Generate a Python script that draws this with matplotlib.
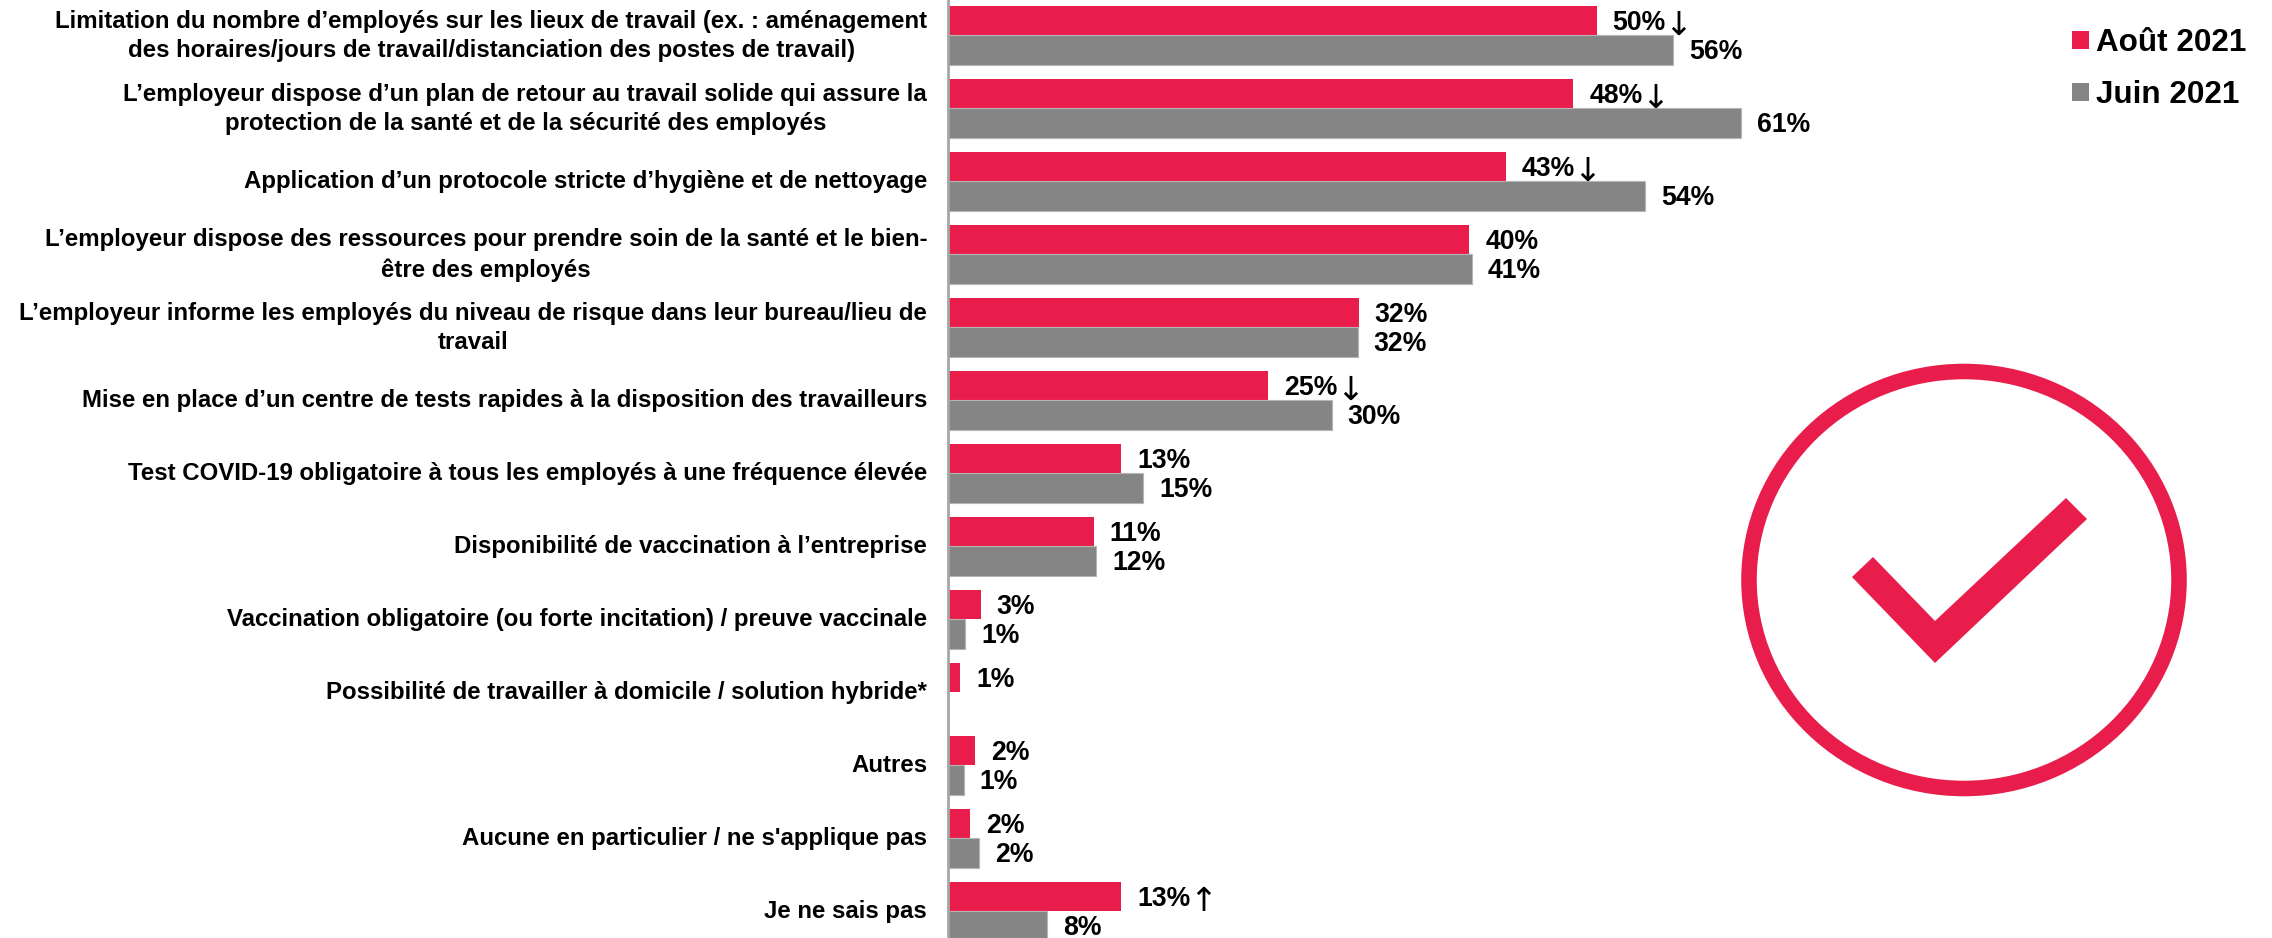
import matplotlib
matplotlib.use("Agg")
import matplotlib.pyplot as plt
from matplotlib.patches import Ellipse, Polygon, Patch

plt.rcParams['font.family'] = ['Liberation Sans', 'DejaVu Sans']

categories = [
    "Limitation du nombre d’employés sur les lieux de travail (ex. : aménagement\ndes horaires/jours de travail/distanciation des postes de travail)",
    "L’employeur dispose d’un plan de retour au travail solide qui assure la\nprotection de la santé et de la sécurité des employés",
    "Application d’un protocole stricte d’hygiène et de nettoyage",
    "L’employeur dispose des ressources pour prendre soin de la santé et le bien-\nêtre des employés",
    "L’employeur informe les employés du niveau de risque dans leur bureau/lieu de\ntravail",
    "Mise en place d’un centre de tests rapides à la disposition des travailleurs",
    "Test COVID-19 obligatoire à tous les employés à une fréquence élevée",
    "Disponibilité de vaccination à l’entreprise",
    "Vaccination obligatoire (ou forte incitation) / preuve vaccinale",
    "Possibilité de travailler à domicile / solution hybride*",
    "Autres",
    "Aucune en particulier / ne s'applique pas",
    "Je ne sais pas",
]
aout = [49.9, 48.1, 42.9, 40.1, 31.6, 24.6, 13.3, 11.2, 2.5, 0.95, 2.06, 1.7, 13.3]
juin = [55.8, 61.0, 53.6, 40.3, 31.5, 29.5, 15.0, 11.4, 1.3, None, 1.2, 2.4, 7.6]
aout_labels = ["50%", "48%", "43%", "40%", "32%", "25%", "13%", "11%", "3%", "1%", "2%", "2%", "13%"]
aout_arrows = ["↓", "↓", "↓", "", "", "↓", "", "", "", "", "", "", "↑"]
juin_labels = ["56%", "61%", "54%", "41%", "32%", "30%", "15%", "12%", "1%", "", "1%", "2%", "8%"]
series_names = ["Août 2021", "Juin 2021"]

RED = "#E91D4C"
GREY = "#858585"
W, H = 2272, 938
AX_X = 948
PX_PER_PCT = 13.0
PITCH = 73.0
TOP = 35.2
BAR_H = 29.5 / PITCH

fig = plt.figure(figsize=(W / 100, H / 100), dpi=100, facecolor="white")
ax = fig.add_axes([AX_X / W, 0, 1 - AX_X / W, 1])
ax.set_xlim(0, (W - AX_X) / PX_PER_PCT)
ax.set_ylim((H - TOP) / PITCH, -TOP / PITCH)

ys = list(range(len(categories)))
ax.barh([y - BAR_H / 2 for y in ys], aout, height=BAR_H, color=RED, linewidth=0)
for y, v in zip(ys, juin):
    if v is not None:
        ax.barh(y + BAR_H / 2, v, height=BAR_H, color=GREY, edgecolor="#B5B5B5", linewidth=0.8)

off = 16 / PX_PER_PCT
for y, v, t, arrow in zip(ys, aout, aout_labels, aout_arrows):
    txt = ax.text(v + off, y - BAR_H / 2 + 0.035, t, fontsize=19.2, fontweight="bold", va="center", ha="left", color="black")
    if arrow:
        ax.annotate(arrow, xy=(1, 0.5), xycoords=txt, xytext=(-1, -1.5), textcoords="offset points",
                    family="DejaVu Sans", fontsize=24, va="center", ha="left", color="black")
for y, v, t in zip(ys, juin, juin_labels):
    if v is not None:
        ax.text(v + off, y + BAR_H / 2 + 0.025, t, fontsize=19.2, fontweight="bold", va="center", ha="left", color="black", clip_on=True)

# tick labels sit slightly above the bar-pair centre, two-line ones a little more
tick_pos = [y - (5.0 if "\n" in c else 2.5) / PITCH for y, c in zip(ys, categories)]
ax.set_yticks(tick_pos)
ax.set_yticklabels(categories, fontsize=17.26, fontweight="bold", color="black", linespacing=1.36)
for lab in ax.get_yticklabels():
    lab.set_multialignment("center")
ax.tick_params(axis="y", length=0, pad=15)
ax.set_xticks([])
for s in ("top", "right", "bottom"):
    ax.spines[s].set_visible(False)
ax.spines["left"].set_color("#A6A6A6")
ax.spines["left"].set_linewidth(2.0)

# overlay in pixel coordinates for the decorative icon and legend anchor
ov = fig.add_axes([0, 0, 1, 1], facecolor="none")
ov.set_xlim(0, W)
ov.set_ylim(H, 0)
ov.axis("off")
ov.add_patch(Ellipse((1964, 580), 430, 417, fill=False, edgecolor=RED, linewidth=11.2))
ov.add_patch(Polygon([(1852, 577), (1873, 557), (1935, 621), (2066, 498), (2087, 519), (1935, 663)],
                     closed=True, facecolor=RED, edgecolor="none"))

handles = [Patch(facecolor=RED, label=series_names[0]), Patch(facecolor=GREY, label=series_names[1])]
ov.legend(handles=handles, loc="upper left", bbox_to_anchor=(2072, 28), bbox_transform=ov.transData,
          frameon=False, prop={"weight": "bold", "size": 22.6}, borderpad=0, borderaxespad=0,
          handlelength=0.54, handleheight=0.54, handletextpad=0.22, labelspacing=0.70)

fig.savefig("out.png", dpi=100, facecolor="white")
